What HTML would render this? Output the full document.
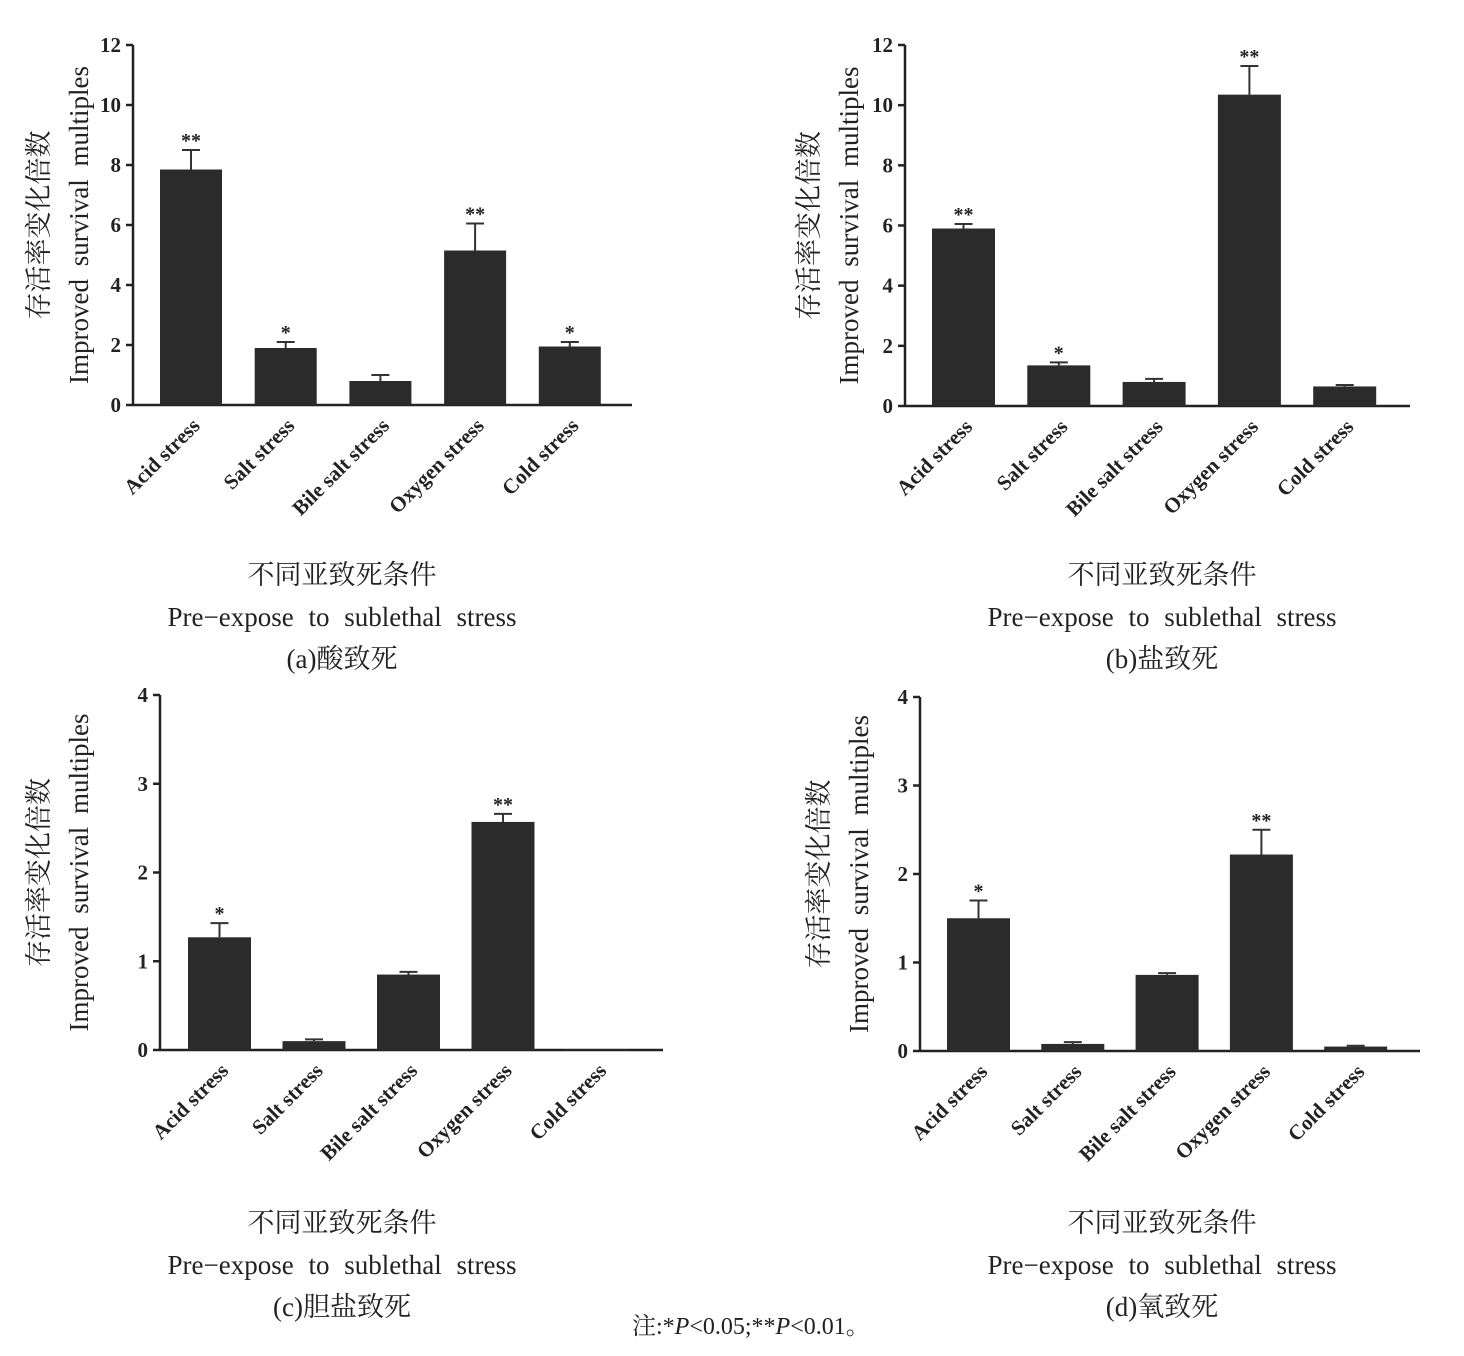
<!DOCTYPE html>
<html><head><meta charset="utf-8"><style>
html,body{margin:0;padding:0;background:#fff}
svg{display:block}
text{font-family:"Liberation Serif","Noto Serif CJK SC",serif;fill:#222}
</style></head><body>
<svg id="fig" width="1464" height="1356" viewBox="0 0 1464 1356" xmlns="http://www.w3.org/2000/svg">
<text x="632" y="1334" font-size="24">注:*<tspan font-style="italic">P</tspan>&lt;0.05;**<tspan font-style="italic">P</tspan>&lt;0.01。</text>
</svg>
<script>
const categories = ["Acid stress","Salt stress","Bile salt stress","Oxygen stress","Cold stress"];
const valuesA = [7.85, 1.9, 0.8, 5.15, 1.95];
const errorsA = [0.65, 0.2, 0.2, 0.9, 0.15];
const sigA = ["**","*","","**","*"];
const valuesB = [5.9, 1.35, 0.8, 10.35, 0.65];
const errorsB = [0.15, 0.1, 0.1, 0.95, 0.05];
const sigB = ["**","*","","**",""];
const valuesC = [1.27, 0.1, 0.85, 2.57, 0.01];
const errorsC = [0.16, 0.02, 0.03, 0.09, 0];
const sigC = ["*","","","**",""];
const valuesD = [1.5, 0.08, 0.86, 2.22, 0.05];
const errorsD = [0.2, 0.02, 0.02, 0.28, 0.01];
const sigD = ["*","","","**",""];
const ticksBig = [0,2,4,6,8,10,12];
const ticksSmall = [0,1,2,3,4];

const NS="http://www.w3.org/2000/svg";
const svg=document.getElementById('fig');
function mk(tag,attrs,parent){const e=document.createElementNS(NS,tag);for(const k in attrs)e.setAttribute(k,attrs[k]);(parent||svg).appendChild(e);return e;}

function panel(id,cfg,vals,errs,sig,ticks,caption){
  const g=mk('g',{});
  
  
  const maxV=ticks[ticks.length-1];
  const y=v=>cfg.y0-(v/maxV)*(cfg.y0-cfg.yTop);
  const x=i=>cfg.firstBar+i*cfg.step;
  const bw=cfg.bw;
  // axes
  const ya=mk('line',{x1:cfg.ax,y1:cfg.y0,x2:cfg.ax,y2:cfg.yTop,stroke:'#222','stroke-width':2.5},g);
  
  
  const xa=mk('line',{x1:cfg.ax,y1:cfg.y0,x2:cfg.xEnd,y2:cfg.y0,stroke:'#222','stroke-width':2.5},g);
  
  
  ticks.forEach(t=>{
    mk('line',{x1:cfg.ax-7,y1:y(t),x2:cfg.ax,y2:y(t),stroke:'#222','stroke-width':2.5},g);
    const tl=mk('text',{x:cfg.ax-12,y:y(t)+7,'text-anchor':'end','font-size':21,'font-weight':'bold'},g);
    tl.textContent=t;
    
    
  });
  vals.forEach((v,i)=>{
    const cx=x(i)+bw/2;
    const r=mk('rect',{x:x(i),y:y(v),width:bw,height:cfg.y0-y(v),fill:'#2b2b2b'},g);
    
    
    if(errs[i]>0){
      const top=y(v+errs[i]);
      mk('line',{x1:cx,y1:y(v),x2:cx,y2:top,stroke:'#333','stroke-width':2},g);
      mk('line',{x1:cx-9,y1:top,x2:cx+9,y2:top,stroke:'#333','stroke-width':2},g);
    }
    if(sig[i]){
      const s=mk('text',{x:cx,y:y(v+errs[i])-3,'text-anchor':'middle','font-size':20,'font-weight':'bold'},g);
      s.textContent=sig[i];
      
      
    }
    const lx=cx+10, ly=cfg.y0+22;
    const cl=mk('text',{x:lx,y:ly,'text-anchor':'end','font-size':21,'font-weight':'bold',transform:`rotate(-45 ${lx} ${ly})`},g);
    cl.textContent=categories[i];
    
    
  });
  const mid=(cfg.yTop+cfg.y0)/2;
  const t1=mk('text',{x:cfg.tx1,y:mid,'text-anchor':'middle','font-size':27,transform:`rotate(-90 ${cfg.tx1} ${mid})`},g);
  t1.textContent='存活率变化倍数';
  
  
  const t2=mk('text',{x:cfg.tx1+40,y:mid,'text-anchor':'middle','font-size':27,'word-spacing':'6',transform:`rotate(-90 ${cfg.tx1+40} ${mid})`},g);
  t2.textContent='Improved survival multiples';
  
  
  const cxm=cfg.capX;
  const c1=mk('text',{x:cxm,y:cfg.capY,'text-anchor':'middle','font-size':27},g);
  c1.textContent='不同亚致死条件';
  
  
  const c2=mk('text',{x:cxm,y:cfg.capY+42,'text-anchor':'middle','font-size':27,'word-spacing':'8'},g);
  c2.textContent='Pre−expose to sublethal stress';
  
  
  const c3=mk('text',{x:cxm,y:cfg.capY+84,'text-anchor':'middle','font-size':27},g);
  c3.textContent=caption;
  
  
}
panel('a',{ax:133,y0:405,yTop:45,xEnd:632,firstBar:160,step:94.7,bw:62,tx1:48,capX:342,capY:584},valuesA,errorsA,sigA,ticksBig,'(a)酸致死');
panel('b',{ax:905,y0:406,yTop:45,xEnd:1410,firstBar:932,step:95.3,bw:63,tx1:818,capX:1162,capY:584},valuesB,errorsB,sigB,ticksBig,'(b)盐致死');
panel('c',{ax:160,y0:1050,yTop:695,xEnd:663,firstBar:188,step:94.5,bw:63,tx1:48,capX:342,capY:1232},valuesC,errorsC,sigC,ticksSmall,'(c)胆盐致死');
panel('d',{ax:920,y0:1051,yTop:697,xEnd:1420,firstBar:947,step:94.3,bw:63,tx1:828,capX:1162,capY:1232},valuesD,errorsD,sigD,ticksSmall,'(d)氧致死');
</script>
</body></html>
